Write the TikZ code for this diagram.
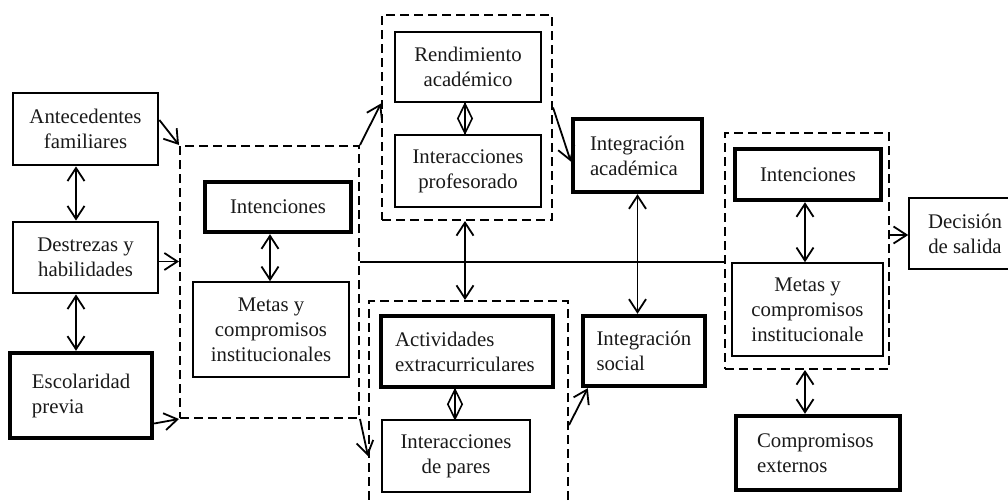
\documentclass[tikz,border=0pt]{standalone}
\usepackage{fontspec}
\setmainfont{Liberation Serif}
\usetikzlibrary{arrows.meta}
\usetikzlibrary{shapes.geometric}

\begin{document}
\begin{tikzpicture}[>={Straight Barb[length=6.5pt,width=8.5pt]}, x=0.5pt, y=-0.5pt, line width=0.9pt, font=\fontsize{10.4}{12.5}\selectfont]
\tikzset{lite/.style={draw,line width=0.8pt,align=center,text=black!90,inner sep=0pt}}
\tikzset{mid/.style={lite,line width=1.4pt}}
\tikzset{heavy/.style={lite,line width=2.2pt}}
\tikzset{lbox/.style={align=left,text width=#1}}
\tikzset{grp/.style={draw,line width=1pt,dash pattern=on 4.5pt off 2.5pt,inner sep=0pt}}
\tikzset{lens/.style={diamond,draw,line width=0.8pt,inner sep=0pt,minimum width=7.5pt,minimum height=15pt}}

\useasboundingbox (0,0) rectangle (1008,503);

% left column
\node[mid, minimum width=72.5pt, minimum height=36pt] (ante) at (85.5,129) {Antecedentes\\familiares};
\node[mid, minimum width=72.5pt, minimum height=35.5pt] (destr) at (85.5,257.5) {Destrezas y\\habilidades};
\node[heavy, lbox=49pt, minimum width=71pt, minimum height=42.5pt] (esco) at (81,395.5) {Escolaridad\\previa};

% first dashed group
\node[grp, minimum width=89.5pt, minimum height=136pt] (grpA) at (269.5,282) {};
\node[heavy, minimum width=73pt, minimum height=25pt] (intL) at (278,207) {Intenciones};
\node[lite, minimum width=78pt, minimum height=47.5pt] (metasL) at (271,329.5) {Metas y\\compromisos\\institucionales};

% top group
\node[grp, minimum width=85pt, minimum height=102.5pt] (grpB) at (467,117.5) {};
\node[lite, minimum width=73pt, minimum height=35pt] (rend) at (468,67) {Rendimiento\\académico};
\node[lite, minimum width=73pt, minimum height=36pt] (intprof) at (468,171) {Interacciones\\profesorado};
\node[heavy, lbox=47.5pt, minimum width=64.5pt, minimum height=36.5pt] (intacad) at (637.5,155.5) {Integración\\académica};

% lower group - runs off the bottom
\node[grp, minimum width=99.5pt, minimum height=119pt] (grpC) at (468.5,420) {};
\node[heavy, lbox=72pt, minimum width=86pt, minimum height=35.5pt] (activ) at (467,351.5) {Actividades\\extracurriculares};
\node[lite, minimum width=74pt, minimum height=36pt] (intpar) at (456,456) {Interacciones\\de pares};
\node[heavy, lbox=47.5pt, minimum width=61pt, minimum height=35pt] (intsoc) at (644,351) {Integración\\social};

% right group
\node[grp, minimum width=82pt, minimum height=118pt] (grpD) at (807,251) {};
\node[heavy, minimum width=73pt, minimum height=25.5pt] (intR) at (808,174.5) {Intenciones};
\node[lite, minimum width=75.5pt, minimum height=46.5pt] (metasR) at (807.5,309.5) {Metas y\\compromisos\\institucionale};
\node[lite, minimum width=56pt, minimum height=35.5pt] (decis) at (965,233.5) {Decisión\\de salida};
\node[heavy, lbox=61pt, minimum width=82pt, minimum height=37pt] (compext) at (818,453) {Compromisos\\externos};

% connectors
\draw[<->] ([xshift=-4.75pt]ante.south) -- ([xshift=-4.75pt]ante.south |- destr.north);
\draw[<->] ([xshift=-4.75pt]destr.south) -- ([xshift=-4.75pt]destr.south |- esco.north);
\draw[->] ([yshift=4.5pt]ante.east) -- (grpA.north west);
\draw[->] ([yshift=-2pt]destr.east) -- ([yshift=-2pt]destr.east -| grpA.west);
\draw[->] ([yshift=-14pt]esco.east) -- (grpA.south west);
\draw[<->] ([xshift=-4pt]intL.south) -- ([xshift=-4pt]intL.south |- metasL.north);

\draw[->] (grpA.north east) -- ([yshift=7pt]grpB.west);
\draw[->] (grpA.south east) -- ([yshift=-78pt]grpC.north west);
\draw ([yshift=10pt]grpA.east) -- ([yshift=10pt]grpA.east -| grpD.west);

\draw ([xshift=-1.5pt]rend.south) -- ([xshift=-1.5pt]rend.south |- intprof.north) node[midway,lens] (lensA) {};
\draw ([xshift=-6pt]activ.south) -- ([xshift=-6pt]activ.south |- intpar.north) node[midway,lens] (lensB) {};
\draw[<->] ([xshift=-1pt]grpB.south) -- ([xshift=-1pt]grpB.south |- grpC.north);
\draw[->] ([yshift=5pt]grpB.east) -- ([yshift=-3pt]intacad.west);
\draw[<->] (intacad.south) -- (intacad.south |- intsoc.north);
\draw[->] ([yshift=-2.5pt]grpC.east) -- ([xshift=3.5pt]intsoc.south west);

\draw[<->] ([xshift=-1.5pt]intR.south) -- ([xshift=-1.5pt]intR.south |- metasR.north);
\draw[->] ([yshift=8pt]grpD.east) -- ([yshift=8pt]grpD.east -| decis.west);
\draw[<->] ([xshift=-1pt]grpD.south) -- ([xshift=-1pt]grpD.south |- compext.north);

\end{tikzpicture}
\end{document}
